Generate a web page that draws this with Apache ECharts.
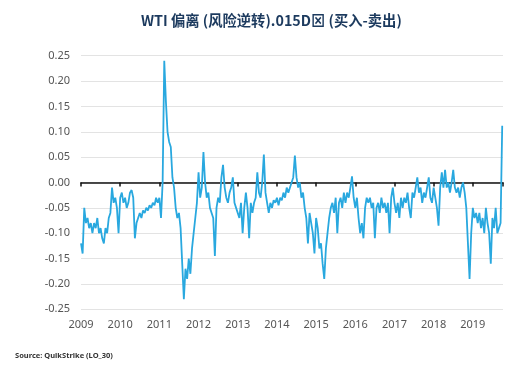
<!DOCTYPE html>
<html>
<head>
<meta charset="utf-8">
<script src="https://cdn.jsdelivr.net/npm/echarts@6/dist/echarts.min.js"></script>
<style>
html,body{margin:0;padding:0;background:#fff;}
#c{width:509px;height:373px;}
</style>
</head>
<body>
<div id="c"></div>
<script>
const titleText = "WTI 偏离 (风险逆转).015D⊠ (买入-卖出)";
const sourceText = "Source: QuikStrike (LO_30)";
const startYear = 2009;
const pointsPerYear = 24;
const yTicks = [-0.25, -0.20, -0.15, -0.10, -0.05, 0.00, 0.05, 0.10, 0.15, 0.20, 0.25];
const xTickYears = [2009, 2010, 2011, 2012, 2013, 2014, 2015, 2016, 2017, 2018, 2019];

const v2009 = [-0.12,-0.14,-0.05,-0.08,-0.07,-0.09,-0.08,-0.10,-0.08,-0.09,-0.07,-0.10,-0.09,-0.11,-0.12,-0.09,-0.10,-0.07,-0.06,-0.01,-0.04,-0.03,-0.05,-0.10];
const v2010 = [-0.03,-0.02,-0.04,-0.03,-0.05,-0.04,-0.02,-0.015,-0.03,-0.11,-0.08,-0.07,-0.06,-0.07,-0.055,-0.06,-0.05,-0.055,-0.045,-0.05,-0.04,-0.045,-0.03,-0.04];
const v2011 = [-0.03,-0.07,0.00,0.24,0.16,0.10,0.08,0.07,0.01,-0.01,-0.05,-0.07,-0.06,-0.09,-0.16,-0.23,-0.17,-0.19,-0.15,-0.18,-0.13,-0.10,-0.07,-0.04];
const v2012 = [0.02,-0.03,-0.01,0.06,0.00,-0.03,-0.02,-0.05,-0.06,-0.07,-0.145,-0.05,-0.03,-0.04,0.01,0.035,-0.01,-0.03,-0.04,-0.02,-0.01,0.01,-0.04,-0.05];
const v2013 = [-0.05,-0.07,-0.04,-0.10,-0.05,-0.02,-0.05,-0.11,-0.04,-0.06,-0.04,-0.03,0.02,-0.02,-0.03,0.00,0.055,-0.02,-0.04,-0.06,-0.04,-0.05,-0.035,-0.04];
const v2014 = [-0.03,-0.045,-0.03,-0.035,-0.02,-0.03,-0.01,-0.02,-0.01,0.00,0.01,0.053,0.01,-0.01,0.00,-0.03,-0.02,-0.05,-0.07,-0.12,-0.06,-0.08,-0.10,-0.14];
const v2015 = [-0.07,-0.09,-0.13,-0.12,-0.16,-0.19,-0.13,-0.10,-0.07,-0.05,-0.04,-0.06,-0.03,-0.10,-0.04,-0.03,-0.05,-0.02,-0.04,-0.02,-0.03,-0.01,0.012,-0.03];
const v2016 = [-0.05,-0.03,-0.07,-0.10,-0.08,-0.11,-0.05,-0.03,-0.04,-0.03,-0.05,-0.04,-0.11,-0.05,-0.04,-0.06,-0.03,-0.05,-0.04,-0.06,-0.04,-0.10,-0.03,-0.01];
const v2017 = [-0.04,-0.06,-0.04,-0.07,-0.03,-0.05,-0.03,-0.04,-0.02,-0.05,-0.07,-0.02,-0.03,-0.01,0.01,-0.02,-0.01,-0.04,-0.02,-0.03,-0.01,0.01,-0.03,-0.04];
const v2018 = [-0.01,-0.03,-0.05,-0.085,-0.01,0.02,-0.01,0.025,-0.01,0.00,-0.02,0.00,0.025,-0.01,-0.02,-0.01,-0.03,-0.01,0.00,-0.02,-0.05,-0.12,-0.19,-0.10];
const v2019 = [-0.05,-0.07,-0.06,-0.08,-0.06,-0.09,-0.07,-0.10,-0.05,-0.08,-0.10,-0.16,-0.07,-0.09,-0.05,-0.10,-0.09,-0.08,0.112];

const values = [].concat(v2009,v2010,v2011,v2012,v2013,v2014,v2015,v2016,v2017,v2018,v2019);
const seriesData = values.map((v, i) => [startYear + i / pointsPerYear, v]);

const chart = echarts.init(document.getElementById('c'), null, {renderer: 'canvas'});
chart.setOption({
  animation: false,
  backgroundColor: '#ffffff',
  title: {
    text: titleText,
    left: 136,
    top: 8,
    textStyle: {fontFamily: '"Noto Sans CJK SC", "Noto Sans", sans-serif', fontSize: 14.3, fontWeight: 'bold', color: '#1c3a5e'}
  },
  graphic: [{
    type: 'text', left: 15, top: 352,
    style: {text: sourceText, fontFamily: '"Noto Sans", sans-serif', fontSize: 7.5, fontWeight: 'bold', fill: '#333'}
  }],
  grid: {left: 81, right: 6, top: 55.7, bottom: 63.7, containLabel: false},
  xAxis: [{
    type: 'value', min: xTickYears[0], max: 2019.77, interval: 1,
    axisLine: {show: false, onZero: false}, axisTick: {show: false}, splitLine: {show: false},
    axisLabel: {
      margin: 10, color: '#555', fontSize: 11, fontFamily: '"Noto Sans", sans-serif',
      formatter: v => (xTickYears.indexOf(Math.round(v)) >= 0 && Math.abs(v - Math.round(v)) < 1e-6) ? String(Math.round(v)) : ''
    }
  }, {
    type: 'value', min: xTickYears[0], max: 2019.77, interval: 1, position: 'bottom',
    axisLine: {show: true, onZero: true, lineStyle: {color: '#111', width: 1.5}},
    axisTick: {show: true, length: 4, lineStyle: {color: '#111', width: 1.5}},
    axisLabel: {show: false}, splitLine: {show: false}
  }],
  yAxis: {
    type: 'value', min: yTicks[0], max: yTicks[yTicks.length - 1], interval: 0.05,
    axisLine: {show: false}, axisTick: {show: false},
    splitLine: {show: true, lineStyle: {color: '#e3e3e3', width: 1.2}},
    axisLabel: {margin: 11, color: '#555', fontSize: 11, fontFamily: '"Noto Sans", sans-serif', formatter: v => v.toFixed(2)}
  },
  series: [{
    type: 'line', xAxisIndex: 1, data: seriesData, showSymbol: false, symbol: 'none',
    lineStyle: {color: '#29a8df', width: 1.8}, z: 1
  }]
});
</script>
</body>
</html>
